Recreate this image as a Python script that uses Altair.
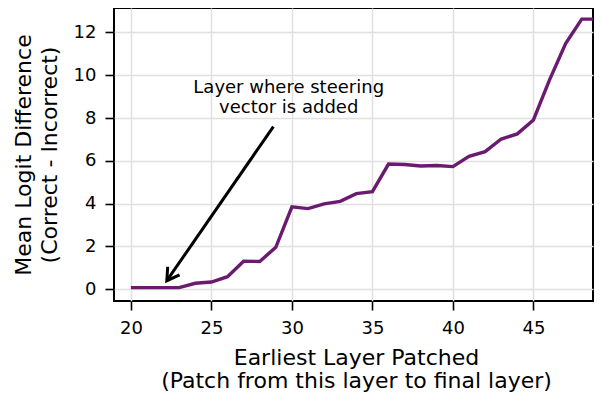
import altair as alt
import pandas as pd

# ---- data ----
layers = list(range(20, 50))
logit_diff = [0.08, 0.08, 0.08, 0.08, 0.28, 0.34, 0.59, 1.31, 1.30, 1.96,
              3.85, 3.77, 3.99, 4.11, 4.47, 4.56, 5.85, 5.83, 5.76, 5.78,
              5.73, 6.21, 6.43, 7.02, 7.26, 7.91, 9.78, 11.48, 12.62, 12.62]

x_ticks = [20, 25, 30, 35, 40, 45]
y_ticks = [0, 2, 4, 6, 8, 10, 12]
x_title = ["Earliest Layer Patched", "(Patch from this layer to final layer)"]
y_title = ["Mean Logit Difference", "(Correct - Incorrect)"]

annotation_text = ["Layer where steering", "vector is added"]
annotation_xy = [29.8, 9.16]
arrow_tail = [28.85, 7.6]
arrow_tip = [22.23, 0.4]

line_color = "#6a1b70"
font = "DejaVu Sans"

df = pd.DataFrame({"layer": layers, "diff": logit_diff})

x_scale = alt.Scale(domain=[18.95, 48.7], nice=False, zero=False)
y_scale = alt.Scale(domain=[-0.547, 13.14], nice=False, zero=False)

line = alt.Chart(df).mark_line(color=line_color, strokeWidth=3.4, clip=True).encode(
    x=alt.X("layer:Q", scale=x_scale,
            axis=alt.Axis(values=x_ticks, title=x_title, titleX=242, titleY=63,
                          titleAlign="center", titleBaseline="alphabetic",
                          titleLineHeight=23, labelPadding=9)),
    y=alt.Y("diff:Q", scale=y_scale,
            axis=alt.Axis(values=y_ticks, title=y_title, titleAngle=270,
                          titleX=-84, titleY=146.5, titleAlign="center",
                          titleBaseline="alphabetic", titleLineHeight=26.7,
                          labelPadding=9)),
)

arrow_df = pd.DataFrame({"x": [arrow_tail[0]], "y": [arrow_tail[1]],
                         "x2": [arrow_tip[0]], "y2": [arrow_tip[1]]})
shaft = alt.Chart(arrow_df).mark_rule(color="black", strokeWidth=3, strokeCap="butt").encode(
    x=alt.X("x:Q", scale=x_scale), y=alt.Y("y:Q", scale=y_scale),
    x2="x2:Q", y2="y2:Q")

head = alt.Chart(arrow_df).mark_point(
    shape="M -0.6 1 L 0 0 L 0.6 1", filled=False, stroke="black",
    strokeWidth=3, size=576, angle=214.6, opacity=1, strokeJoin="miter"
).encode(x=alt.X("x2:Q", scale=x_scale), y=alt.Y("y2:Q", scale=y_scale))

text_df = pd.DataFrame({"x": [annotation_xy[0]], "y": [annotation_xy[1]],
                        "t": ["\n".join(annotation_text)]})
label = alt.Chart(text_df).mark_text(
    font=font, fontSize=18, color="black", align="center",
    baseline="alphabetic", lineBreak="\n", lineHeight=20
).encode(x=alt.X("x:Q", scale=x_scale), y=alt.Y("y:Q", scale=y_scale), text="t:N")

chart = alt.layer(line, shaft, head, label).properties(
    width=479, height=293,
    autosize=alt.AutoSizeParams(type="none"),
    padding={"left": 106, "top": 0, "right": 1, "bottom": 91},
).configure_view(stroke="black", strokeWidth=2).configure_axis(
    labelFont=font, labelFontSize=18, labelColor="black",
    titleFont=font, titleFontSize=22, titleFontWeight="normal", titleColor="black",
    tickColor="black", tickWidth=1.6, tickSize=9,
    gridColor="#e0e0e0", gridWidth=1.5, domain=False,
)

chart.save("out.html", embed_options={"renderer": "svg", "actions": False})
